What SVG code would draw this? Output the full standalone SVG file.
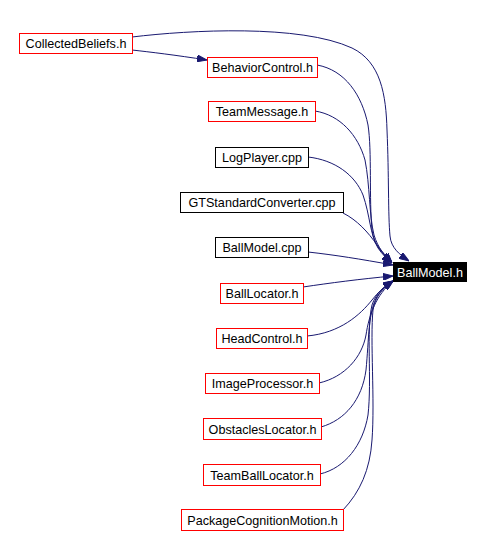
<svg xmlns="http://www.w3.org/2000/svg" width="484" height="537" viewBox="0 0 484 537">
<style>
.n rect{fill:#ffffff;stroke-width:1;shape-rendering:crispEdges}
.r rect{stroke:#ff0000}
.b rect{stroke:#000000}
.n text{font-family:"Liberation Sans",Arial,sans-serif;font-size:12.6px;text-anchor:middle;fill:#000000}
.e path{fill:none;stroke:#191970;stroke-width:1;marker-end:url(#ah)}
</style>
<defs>
<marker id="ah" viewBox="0 0 10 7" refX="10" refY="3.5" markerWidth="10" markerHeight="7" markerUnits="userSpaceOnUse" orient="auto">
<path d="M0,0 L10,3.5 L0,7 z" fill="#191970" stroke="#191970" stroke-width="1"/>
</marker>
</defs>
<rect width="484" height="537" fill="#ffffff"/>
<g id="edges" class="e">
<path d="M132,37 C190,30 300,24 352,48 C381,62 386,95 387,130 C389,175 388,215 390,236 C391,248 400,255 409,261"/>
<path d="M132,50 C150,52 175,55 207,60"/>
<path d="M317,65 C345,70 362,95 368,125 C372,150 369,200 372,230 C374,245 383,255 392,262"/>
<path d="M315,111 C340,115 358,135 365,160 C370,185 369,215 374,235 C378,248 385,256 392,263"/>
<path d="M308,157 C335,160 355,175 363,195 C370,215 370,235 378,248 C382,254 387,259 392,263"/>
<path d="M343,213 C357,220 368,232 377,245 C382,252 387,257 392,263"/>
<path d="M308,252 C335,255 360,259 393,265"/>
<path d="M303,287 C330,283 360,279 393,276"/>
<path d="M307,336 C340,333 360,315 372,300 C378,292 385,286 393,281"/>
<path d="M319,383 C345,377 362,357 366,335 C369,315 376,295 393,281"/>
<path d="M321,427 C345,420 362,400 366,370 C369,340 368,310 378,295 C382,289 387,285 393,281"/>
<path d="M320,474 C345,468 363,445 368,415 C372,380 366,330 372,305 C376,293 384,286 393,281"/>
<path d="M343,510 C360,492 370,470 372,440 C375,400 370,340 373,310 C375,296 384,287 393,281"/>
</g>
<g id="CollectedBeliefs" class="n r"><rect x="19.5" y="33.5" width="113" height="20"/><text x="76" y="48">CollectedBeliefs.h</text></g>
<g id="BehaviorControl" class="n r"><rect x="207.5" y="57.5" width="110" height="20"/><text x="262.5" y="72">BehaviorControl.h</text></g>
<g id="TeamMessage" class="n r"><rect x="208.5" y="101.5" width="107" height="20"/><text x="262" y="116">TeamMessage.h</text></g>
<g id="LogPlayer" class="n b"><rect x="215.5" y="147.5" width="93" height="20"/><text x="262" y="162">LogPlayer.cpp</text></g>
<g id="GTStandardConverter" class="n b"><rect x="180.5" y="192.5" width="163" height="20"/><text x="262" y="207">GTStandardConverter.cpp</text></g>
<g id="BallModelCpp" class="n b"><rect x="215.5" y="237.5" width="93" height="20"/><text x="262" y="252">BallModel.cpp</text></g>
<g id="BallModelH"><rect x="393" y="262" width="74" height="20" fill="#000000"/><text x="430" y="276.5" font-family="Liberation Sans,Arial,sans-serif" font-size="12.6px" text-anchor="middle" fill="#ffffff">BallModel.h</text></g>
<g id="BallLocator" class="n r"><rect x="220.5" y="283.5" width="83" height="20"/><text x="262" y="298">BallLocator.h</text></g>
<g id="HeadControl" class="n r"><rect x="216.5" y="328.5" width="91" height="20"/><text x="262" y="343">HeadControl.h</text></g>
<g id="ImageProcessor" class="n r"><rect x="205.5" y="373.5" width="114" height="20"/><text x="262.5" y="388">ImageProcessor.h</text></g>
<g id="ObstaclesLocator" class="n r"><rect x="203.5" y="418.5" width="118" height="21"/><text x="262.5" y="434">ObstaclesLocator.h</text></g>
<g id="TeamBallLocator" class="n r"><rect x="203.5" y="464.5" width="117" height="21"/><text x="262" y="480">TeamBallLocator.h</text></g>
<g id="PackageCognitionMotion" class="n r"><rect x="181.5" y="509.5" width="162" height="21"/><text x="262.5" y="525">PackageCognitionMotion.h</text></g>
</svg>
